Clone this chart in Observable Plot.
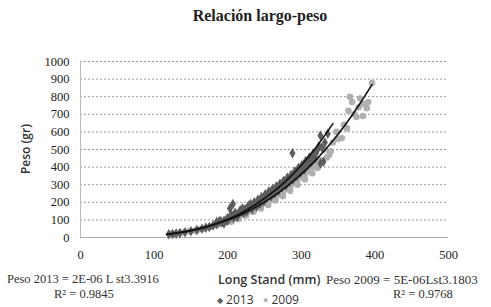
<!DOCTYPE html>
<html><head><meta charset="utf-8">
<script src="https://cdn.jsdelivr.net/npm/d3@7"></script>
<script src="https://cdn.jsdelivr.net/npm/@observablehq/plot@0.6"></script>
<style>
body{margin:0;background:#fff;}
#wrap{position:relative;width:491px;height:307px;overflow:hidden;background:#fff;}
.t{position:absolute;white-space:nowrap;color:#222;}
.serif{font-family:"Liberation Serif","DejaVu Serif",serif;}
.sans{font-family:"Open Sans","Liberation Sans",sans-serif;}
</style></head>
<body><div id="wrap"></div>
<script>
const title = "Relación largo-peso";
const xLabel = "Long  Stand (mm)";
const yLabel = "Peso (gr)";
const eq2013 = "Peso 2013 = 2E-06 L st3.3916";
const r2013 = "R² = 0.9845";
const eq2009 = "Peso 2009 = 5E-06Lst3.1803";
const r2009 = "R² = 0.9768";
const series = ["2013", "2009"];
const xTicks = [0, 100, 200, 300, 400, 500];
const yTicks = [0, 100, 200, 300, 400, 500, 600, 700, 800, 900, 1000];

// 2013 observations (length mm, weight g)
const len2013 = [120,125,130,135,142,150,158,165,170,175,180,185,188,192,195,198,200,203,203,206,207,208,210,212,215,218,220,222,225,228,230,232,235,238,240,242,245,248,250,252,255,258,260,262,265,268,270,272,275,278,280,282,285,288,288,290,292,295,298,300,303,305,308,310,312,315,318,320,326,326,330,336,
  185,190,195,200,205,210,213,217,220,223,226,228,231,233,236,239,241,244,246,249,251,254,256,259,261,264,266,269,271,274,276,279,281,284,286,289,291,294,296,299,301,304,306,309,311,314,316,319,322,324,328,332];
const wt2013  = [18,20,22,25,30,35,42,50,55,60,68,75,90,85,95,100,110,115,165,120,190,112,125,130,138,145,150,140,160,165,175,170,185,190,200,195,210,220,230,225,245,250,260,255,275,285,290,300,310,305,320,330,340,350,479,360,370,380,390,395,410,420,430,440,450,460,470,480,580,420,430,590,
  88,95,80,95,130,140,118,155,165,158,150,180,190,160,200,175,215,190,230,205,245,230,262,235,275,250,290,265,305,285,322,295,340,315,355,330,375,350,395,370,412,385,435,410,455,430,475,450,500,520,510,540];
// 2009 observations
const len2009 = [122,128,135,140,148,155,160,165,172,178,185,190,196,200,205,210,215,220,225,230,235,240,245,250,255,260,265,270,275,280,285,290,295,300,305,310,315,320,325,332,338,343,348,350,355,358,362,364,366,369,372,375,378,380,384,385,389,391,396,
  205,215,225,235,245,255,265,275,285,295,305,315,322,328,335,340];
const wt2009  = [20,22,25,30,35,40,45,50,58,62,70,78,88,95,100,108,120,128,140,150,160,172,180,195,205,215,230,245,260,275,290,310,330,345,360,380,400,420,440,500,470,540,600,560,565,640,620,720,800,770,700,685,740,790,690,760,735,770,878,
  90,105,125,145,165,185,210,235,265,300,330,365,395,430,455,490];
// trend curves
const trendX2013 = [117,140,160,180,200,220,240,260,280,300,320,343];
const trendY2013 = [17,31,49,73,104,143,193,253,325,411,511,647];
const trendX2009 = [117,140,160,180,200,220,240,260,280,300,320,340,360,380,396];
const trendY2009 = [18,32,49,71,99,134,177,228,289,360,441,535,642,763,869];

const pts2013 = len2013.map((x,i)=>({x, y: wt2013[i]}));
const pts2009 = len2009.map((x,i)=>({x, y: wt2009[i]}));
const tr2013 = trendX2013.map((x,i)=>({x, y: trendY2013[i]}));
const tr2009 = trendX2009.map((x,i)=>({x, y: trendY2009[i]}));

const chart = Plot.plot({
  width: 491, height: 307,
  marginLeft: 80, marginRight: 43, marginTop: 61, marginBottom: 70,
  style: {fontFamily: '"Liberation Serif","DejaVu Serif",serif', fontSize: "12.5px", color: "#222", background: "#fff"},
  x: {domain: [0, 500], ticks: xTicks, tickFormat: d3.format("d"), tickSize: 0, tickPadding: 13, label: null},
  y: {domain: [0, 1000], ticks: yTicks, tickFormat: d3.format("d"), tickSize: 0, tickPadding: 11, label: null},
  marks: [
    Plot.ruleY(yTicks.filter(d => d > 0), {stroke: "#999", strokeDasharray: "2,2", strokeWidth: 1}),
    Plot.ruleY([0], {stroke: "#aaa", strokeWidth: 1}),
    Plot.ruleX([0], {stroke: "#bbb", strokeWidth: 1}),
    Plot.dot(pts2009, {x: "x", y: "y", r: 3.3, fill: "#b0b0b0", stroke: "none"}),
    Plot.dot(pts2013, {x: "x", y: "y", r: 3.2, symbol: "diamond", fill: "#5e5e5e", stroke: "none"}),
    Plot.line(tr2009, {x: "x", y: "y", stroke: "#111", strokeWidth: 1.6, curve: "natural"}),
    Plot.line(tr2013, {x: "x", y: "y", stroke: "#111", strokeWidth: 1.6, curve: "natural"})
  ]
});
const wrap = document.getElementById("wrap");
chart.style.position = "absolute"; chart.style.left = "0"; chart.style.top = "0";
wrap.appendChild(chart);

function addText(txt, cls, css){
  const d = document.createElement("div");
  d.className = "t " + cls; d.textContent = txt;
  Object.assign(d.style, css); wrap.appendChild(d); return d;
}
addText(title, "serif", {left:"190px", width:"140px", textAlign:"center", top:"7px", fontSize:"16px", fontWeight:"bold"});
addText(yLabel, "sans", {left:"25px", top:"149px", fontSize:"12px", fontWeight:"600", transform:"translate(-50%,-50%) rotate(-90deg)", color:"#333"});
addText(xLabel, "sans", {left:"218px", top:"271px", fontSize:"12.5px", fontWeight:"600", color:"#333"});
addText(eq2013, "serif", {left:"7px", top:"272px", fontSize:"12.5px", color:"#333"});
addText(r2013, "serif", {left:"54px", top:"287px", fontSize:"12.5px", color:"#333"});
addText(eq2009, "serif", {left:"326px", top:"272px", fontSize:"13px", color:"#333"});
addText(r2009, "serif", {left:"393px", top:"287px", fontSize:"12.5px", color:"#333"});
const leg = addText("", "sans", {left:"217px", top:"291px", fontSize:"12px", color:"#333"});
leg.innerHTML = '<span style="color:#5e5e5e;font-size:8px;vertical-align:1px">◆</span> ' + series[0] +
  ' &nbsp;&nbsp;<span style="color:#b0b0b0;font-size:9px;vertical-align:1px">●</span> ' + series[1];
</script></body></html>
